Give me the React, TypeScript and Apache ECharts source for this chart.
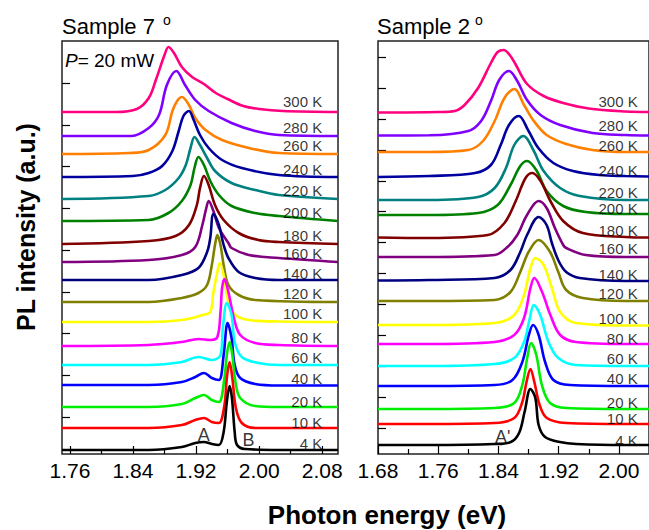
import React, { useEffect, useRef } from 'react';
import * as echarts from 'echarts';

const FONT = '"Liberation Sans", Arial, sans-serif';

const temps = ['4 K', '10 K', '20 K', '40 K', '60 K', '80 K', '100 K', '120 K', '140 K', '160 K', '180 K', '200 K', '220 K', '240 K', '260 K', '280 K', '300 K'];
const colors = ['#000000', '#ff0000', '#00ee00', '#0000ff', '#00ffff', '#ff00ff', '#ffff00', '#808000', '#000080', '#800080', '#800000', '#008000', '#008080', '#0000a0', '#ff8000', '#8000ff', '#ff0080'];

// Sample 7 spectra: [photon energy (eV), offset PL intensity (a.u.)]
const s7_4K = [[1.75, 4], [1.86, 4], [1.902, 7], [1.919, 11], [1.93, 12], [1.94, 10], [1.949, 9], [1.955, 22], [1.959, 52], [1.9625, 68], [1.9655, 56], [1.969, 22], [1.972, 9], [1.982, 5], [2.025, 4], [2.1, 4]];
const s7_10K = [[1.75, 26], [1.86, 26], [1.902, 29], [1.919, 34], [1.93, 36], [1.94, 32], [1.949, 31], [1.956, 49], [1.959, 76], [1.9625, 92], [1.966, 76], [1.9705, 46], [1.978, 31], [1.995, 26], [2.1, 26]];
const s7_20K = [[1.75, 47], [1.86, 47], [1.902, 50], [1.919, 56], [1.93, 59], [1.94, 54], [1.949, 52], [1.956, 76], [1.959, 99], [1.9625, 112], [1.966, 99], [1.97, 72], [1.976, 56], [1.995, 48], [2.025, 47], [2.1, 47]];
const s7_40K = [[1.75, 69], [1.86, 69], [1.902, 72], [1.919, 77], [1.93, 81], [1.94, 76], [1.949, 74], [1.955, 99], [1.96, 131], [1.965, 116], [1.969, 89], [1.976, 76], [1.995, 70], [2.025, 68.5], [2.1, 68.5]];
const s7_60K = [[1.75, 89], [1.86, 89], [1.902, 92], [1.923, 97], [1.94, 94], [1.951, 99], [1.954, 126], [1.959, 151], [1.965, 139], [1.969, 112], [1.978, 97], [1.999, 91], [2.025, 89], [2.1, 89]];
const s7_80K = [[1.75, 108], [1.86, 109], [1.902, 112], [1.923, 115], [1.938, 114], [1.947, 117], [1.951, 142], [1.953, 166], [1.956, 175], [1.961, 162], [1.968, 136], [1.976, 119], [1.995, 111], [2.025, 109], [2.1, 108]];
const s7_100K = [[1.75, 132], [1.86, 132], [1.902, 134], [1.928, 139], [1.938, 142], [1.942, 162], [1.947, 182], [1.95, 191], [1.955, 179], [1.961, 152], [1.97, 139], [1.987, 134], [2.025, 132.5], [2.1, 132]];
const s7_120K = [[1.75, 152], [1.86, 152], [1.902, 156], [1.923, 161], [1.934, 169], [1.94, 189], [1.944, 209], [1.947, 219], [1.951, 209], [1.955, 189], [1.961, 169], [1.974, 159], [1.995, 154], [2.1, 152]];
const s7_140K = [[1.75, 174], [1.86, 174], [1.902, 179], [1.923, 186], [1.934, 202], [1.938, 216], [1.942, 240], [1.949, 229], [1.955, 209], [1.961, 196], [1.974, 182], [1.995, 176], [2.025, 174], [2.1, 174]];
const s7_160K = [[1.75, 192], [1.86, 194], [1.902, 199], [1.919, 207], [1.928, 229], [1.933, 246], [1.936, 253], [1.942, 243], [1.949, 226], [1.961, 211], [1.965, 206], [1.987, 199], [2.025, 196], [2.1, 192]];
const s7_180K = [[1.75, 210], [1.86, 213], [1.894, 218], [1.911, 229], [1.921, 249], [1.925, 266], [1.93, 278], [1.936, 269], [1.944, 249], [1.955, 234], [1.974, 221], [1.999, 214], [2.025, 212], [2.1, 210]];
const s7_200K = [[1.75, 233], [1.86, 234], [1.885, 241], [1.902, 253], [1.913, 269], [1.918, 286], [1.923, 297], [1.93, 289], [1.938, 273], [1.949, 259], [1.965, 248], [1.995, 241], [2.025, 238], [2.1, 233]];
const s7_220K = [[1.75, 255], [1.86, 258], [1.881, 264], [1.898, 276], [1.907, 289], [1.913, 306], [1.918, 317], [1.925, 309], [1.934, 296], [1.944, 283], [1.965, 271], [1.995, 264], [2.025, 259], [2.1, 255]];
const s7_240K = [[1.75, 277], [1.84, 278], [1.86, 281], [1.877, 288], [1.89, 303], [1.898, 323], [1.904, 338], [1.911, 343], [1.917, 334], [1.925, 319], [1.936, 306], [1.953, 294], [1.978, 286], [2.025, 279], [2.1, 277]];
const s7_260K = [[1.75, 300], [1.835, 301], [1.86, 304], [1.881, 319], [1.89, 343], [1.896, 353], [1.902, 357], [1.911, 349], [1.919, 336], [1.932, 324], [1.953, 314], [1.987, 306], [2.025, 301], [2.1, 300]];
const s7_280K = [[1.75, 318], [1.838, 318], [1.86, 326], [1.873, 339], [1.883, 369], [1.895, 383], [1.906, 369], [1.919, 354], [1.936, 343], [1.965, 331], [1.995, 323], [2.025, 319], [2.1, 318]];
const s7_300K = [[1.75, 342], [1.818, 342], [1.845, 345], [1.86, 356], [1.869, 374], [1.88, 399], [1.885, 407], [1.892, 401], [1.902, 387], [1.915, 377], [1.93, 370], [1.945, 361], [1.96, 355], [1.98, 348], [2.0, 345], [2.03, 343], [2.1, 342]];

// Sample 2 spectra
const s2_4K = [[1.68, 9], [1.748, 9], [1.835, 10], [1.8564, 12], [1.8674, 21], [1.8747, 42], [1.8825, 65], [1.889, 56], [1.8934, 29], [1.902, 17], [1.9216, 12], [1.9434, 10], [2.009, 9], [2.04, 9]];
const s2_10K = [[1.68, 30], [1.748, 30], [1.835, 31], [1.861, 36], [1.8717, 52], [1.8773, 72], [1.8825, 85], [1.8877, 72], [1.8947, 49], [1.9042, 36], [1.93, 31], [2.009, 30], [2.04, 30]];
const s2_20K = [[1.68, 45], [1.748, 45], [1.835, 46], [1.861, 51], [1.8717, 69], [1.8782, 96], [1.8834, 111], [1.8903, 99], [1.8977, 69], [1.9086, 51], [1.93, 46], [2.009, 45], [2.04, 45]];
const s2_40K = [[1.68, 68], [1.748, 68], [1.835, 69], [1.8586, 74], [1.8717, 92], [1.8804, 119], [1.886, 129], [1.8934, 119], [1.902, 92], [1.913, 74], [1.935, 69], [2.009, 68], [2.04, 68]];
const s2_60K = [[1.68, 88], [1.748, 88], [1.835, 90], [1.861, 96], [1.874, 112], [1.8817, 136], [1.887, 149], [1.8955, 139], [1.9065, 112], [1.9195, 96], [1.943, 89], [2.009, 88], [2.04, 88]];
const s2_80K = [[1.68, 110], [1.748, 110], [1.835, 112], [1.861, 119], [1.874, 136], [1.8825, 166], [1.8877, 176], [1.898, 162], [1.909, 139], [1.922, 119], [1.943, 112], [2.009, 110], [2.04, 110]];
const s2_100K = [[1.68, 129], [1.748, 129], [1.835, 131], [1.861, 139], [1.874, 159], [1.8825, 186], [1.889, 196], [1.9, 189], [1.911, 166], [1.922, 142], [1.943, 131], [2.009, 128.5], [2.04, 128.5]];
const s2_120K = [[1.68, 153], [1.748, 153], [1.835, 154], [1.856, 162], [1.869, 182], [1.88, 202], [1.8934, 214], [1.9086, 202], [1.9195, 182], [1.93, 164], [1.952, 156], [2.009, 153], [2.04, 153]];
const s2_140K = [[1.68, 173.5], [1.748, 174], [1.835, 176], [1.856, 184], [1.869, 202], [1.878, 219], [1.8934, 237], [1.904, 229], [1.911, 211], [1.92, 193], [1.93, 182], [1.948, 176], [2.009, 173], [2.04, 173]];
const s2_160K = [[1.68, 197], [1.748, 197], [1.835, 199], [1.852, 207], [1.865, 219], [1.878, 239], [1.8934, 253], [1.904, 246], [1.915, 226], [1.926, 209], [1.93, 206], [1.956, 199], [2.009, 197], [2.04, 197]];
const s2_180K = [[1.68, 216.5], [1.748, 216], [1.826, 219], [1.848, 231], [1.863, 253], [1.876, 276], [1.885, 281], [1.896, 273], [1.909, 253], [1.926, 233], [1.952, 221], [2.009, 217], [2.04, 216.5]];
const s2_200K = [[1.68, 239], [1.748, 239], [1.813, 241], [1.839, 249], [1.856, 269], [1.869, 288], [1.878, 293], [1.891, 283], [1.904, 263], [1.926, 248], [1.956, 242], [2.009, 240], [2.04, 240]];
const s2_220K = [[1.68, 254], [1.748, 254], [1.813, 257], [1.835, 266], [1.85, 286], [1.861, 309], [1.873, 318], [1.887, 303], [1.9, 283], [1.922, 266], [1.948, 258], [2.009, 254], [2.04, 254]];
const s2_240K = [[1.68, 277], [1.748, 278], [1.809, 281], [1.83, 289], [1.843, 309], [1.854, 329], [1.867, 338], [1.88, 323], [1.893, 306], [1.913, 291], [1.939, 283], [1.974, 279], [2.009, 278], [2.04, 277.5]];
const s2_260K = [[1.68, 302], [1.748, 302], [1.8, 304], [1.8195, 313], [1.835, 333], [1.848, 356], [1.861, 365], [1.874, 349], [1.887, 333], [1.904, 319], [1.93, 310], [1.965, 304], [2.009, 302], [2.04, 302]];
const s2_280K = [[1.68, 318.5], [1.748, 318.7], [1.8, 323], [1.817, 333], [1.83, 353], [1.841, 374], [1.854, 383], [1.865, 373], [1.878, 354], [1.896, 339], [1.922, 329], [1.965, 321], [2.009, 319], [2.04, 318.5]];
const s2_300K = [[1.68, 341.5], [1.761, 342], [1.782, 343], [1.795, 349], [1.813, 366], [1.83, 391], [1.839, 402], [1.847, 404], [1.855, 399], [1.8625, 390], [1.878, 370], [1.9, 358], [1.926, 351], [1.96, 345.5], [2.009, 342.5], [2.04, 342]];

const leftSpectra = [s7_4K, s7_10K, s7_20K, s7_40K, s7_60K, s7_80K, s7_100K, s7_120K, s7_140K, s7_160K, s7_180K, s7_200K, s7_220K, s7_240K, s7_260K, s7_280K, s7_300K];
const rightSpectra = [s2_4K, s2_10K, s2_20K, s2_40K, s2_60K, s2_80K, s2_100K, s2_120K, s2_140K, s2_160K, s2_180K, s2_200K, s2_220K, s2_240K, s2_260K, s2_280K, s2_300K];

// temperature label heights (a.u.) and energy where labels end
const leftLabelY = [11, 32, 53, 76, 97, 117, 141, 161, 181, 201, 219, 242, 264, 285, 309, 327, 353];
const rightLabelY = [14, 36, 52, 76, 96, 116, 136, 161, 180, 206, 224, 246, 262, 284, 309, 329, 353];
const leftLabelE = 2.08;
const rightLabelE = 2.025;

// axis ticks
const leftMajor = [1.76, 1.84, 1.92, 2.0, 2.08];
const leftMinor = [1.8, 1.88, 1.96, 2.04];
const rightMajor = [1.68, 1.76, 1.84, 1.92, 2.0];
const rightMinor = [1.72, 1.8, 1.88, 1.96];
const leftYTicks = [37, 78.75, 120.5, 162.25, 204, 245.75, 287.5, 329.25, 371];
const rightYTicks = [26, 56.9, 87.8, 118.7, 149.6, 180.5, 211.4, 242.3, 273.2, 304.1, 335, 365.9, 396.8];

// peak annotations
const leftPeakNotes = [{ name: 'A', value: [1.9296, 19] }, { name: 'B', value: [1.9866, 14] }];
const rightPeakNotes = [{ name: "A'", value: [1.8456, 17] }];

function xAxes(grid: number, min: number, max: number, major: number[], minor: number[]) {
  return [
    {
      type: 'value', gridIndex: grid, min, max, position: 'bottom',
      axisLine: { show: false }, splitLine: { show: false },
      axisTick: { show: true, inside: true, length: 8, customValues: major, lineStyle: { color: '#000', width: 1.2 } },
      axisLabel: { show: true, customValues: major, formatter: (v: number) => v.toFixed(2), fontSize: 21, color: '#000', fontFamily: FONT, margin: 6 },
    },
    {
      type: 'value', gridIndex: grid, min, max, position: 'bottom',
      axisLine: { show: false }, splitLine: { show: false },
      axisTick: { show: true, inside: true, length: 5, customValues: minor, lineStyle: { color: '#000', width: 1.2 } },
      axisLabel: { show: false },
    },
  ];
}

function yAxis(grid: number, ticks: number[]) {
  return {
    type: 'value', gridIndex: grid, min: 0, max: 413,
    axisLine: { show: false }, splitLine: { show: false },
    axisTick: { show: true, inside: true, length: 8, customValues: ticks, lineStyle: { color: '#000', width: 1.2 } },
    axisLabel: { show: false },
  };
}

function lineSeries(spectra: number[][][], xi: number, yi: number) {
  const out: any[] = [];
  for (let i = spectra.length - 1; i >= 0; i--) {
    out.push({
      type: 'line', name: temps[i], xAxisIndex: xi, yAxisIndex: yi,
      data: spectra[i], showSymbol: false, symbol: 'none', smooth: 0.35,
      lineStyle: { color: colors[i], width: 2.6 }, silent: true, z: 2,
    });
  }
  return out;
}

function labelSeries(labelY: number[], e: number, xi: number, yi: number) {
  return {
    type: 'scatter', xAxisIndex: xi, yAxisIndex: yi, symbolSize: 0, silent: true, z: 5,
    data: temps.map((t, i) => ({ name: t, value: [e, labelY[i]] })),
    label: { show: true, position: 'left', distance: 0, formatter: '{b}', fontSize: 15, color: '#000', fontFamily: FONT },
  };
}

function noteSeries(notes: any[], xi: number, yi: number) {
  return {
    type: 'scatter', xAxisIndex: xi, yAxisIndex: yi, symbolSize: 0, silent: true, z: 5,
    data: notes,
    label: { show: true, position: 'inside', formatter: '{b}', fontSize: 18, color: '#000', fontFamily: FONT },
  };
}

export default function App() {
  const ref = useRef<HTMLDivElement>(null);
  useEffect(() => {
    const chart = echarts.init(ref.current!, null, { renderer: 'svg' });
    const option: any = {
      animation: false,
      backgroundColor: '#fff',
      grid: [
        { left: 62, top: 41, width: 276, height: 413, show: true, borderColor: '#222', borderWidth: 1.5 },
        { left: 378, top: 41, width: 276, height: 413, show: true, borderColor: '#222', borderWidth: 1.5 },
      ],
      xAxis: [
        ...xAxes(0, 1.75, 2.1, leftMajor, leftMinor),
        ...xAxes(1, 1.68, 2.04, rightMajor, rightMinor),
      ],
      yAxis: [yAxis(0, leftYTicks), yAxis(1, rightYTicks)],
      series: [
        ...lineSeries(leftSpectra, 0, 0),
        ...lineSeries(rightSpectra, 2, 1),
        labelSeries(leftLabelY, leftLabelE, 0, 0),
        labelSeries(rightLabelY, rightLabelE, 2, 1),
        noteSeries(leftPeakNotes, 0, 0),
        noteSeries(rightPeakNotes, 2, 1),
      ],
      graphic: [
        { type: 'text', x: 62, y: 26, style: { text: 'Sample 7', font: `22px ${FONT}`, fill: '#000', align: 'left', verticalAlign: 'middle' } },
        { type: 'text', x: 167, y: 20, style: { text: 'o', font: `14px ${FONT}`, fill: '#000', align: 'center', verticalAlign: 'middle' } },
        { type: 'text', x: 377, y: 26, style: { text: 'Sample 2', font: `22px ${FONT}`, fill: '#000', align: 'left', verticalAlign: 'middle' } },
        { type: 'text', x: 479, y: 20, style: { text: 'o', font: `14px ${FONT}`, fill: '#000', align: 'center', verticalAlign: 'middle' } },
        {
          type: 'text', x: 65, y: 60,
          style: {
            text: '{i|P}{n|= 20 mW}', align: 'left', verticalAlign: 'middle',
            rich: {
              i: { fontStyle: 'italic', fontSize: 19, fontFamily: FONT, fill: '#000', color: '#000' },
              n: { fontSize: 19, fontFamily: FONT, fill: '#000', color: '#000' },
            },
          },
        },
        { type: 'text', x: 26, y: 227, rotation: Math.PI / 2, style: { text: 'PL intensity (a.u.)', font: `bold 25px ${FONT}`, fill: '#000', align: 'center', verticalAlign: 'middle' } },
        { type: 'text', x: 387, y: 515, style: { text: 'Photon energy (eV)', font: `bold 26px ${FONT}`, fill: '#000', align: 'center', verticalAlign: 'middle' } },
      ],
    };
    chart.setOption(option);
    return () => chart.dispose();
  }, []);
  return <div ref={ref} style={{ position: 'absolute', left: 0, top: 0, width: 649, height: 530, background: '#fff' }} />;
}
